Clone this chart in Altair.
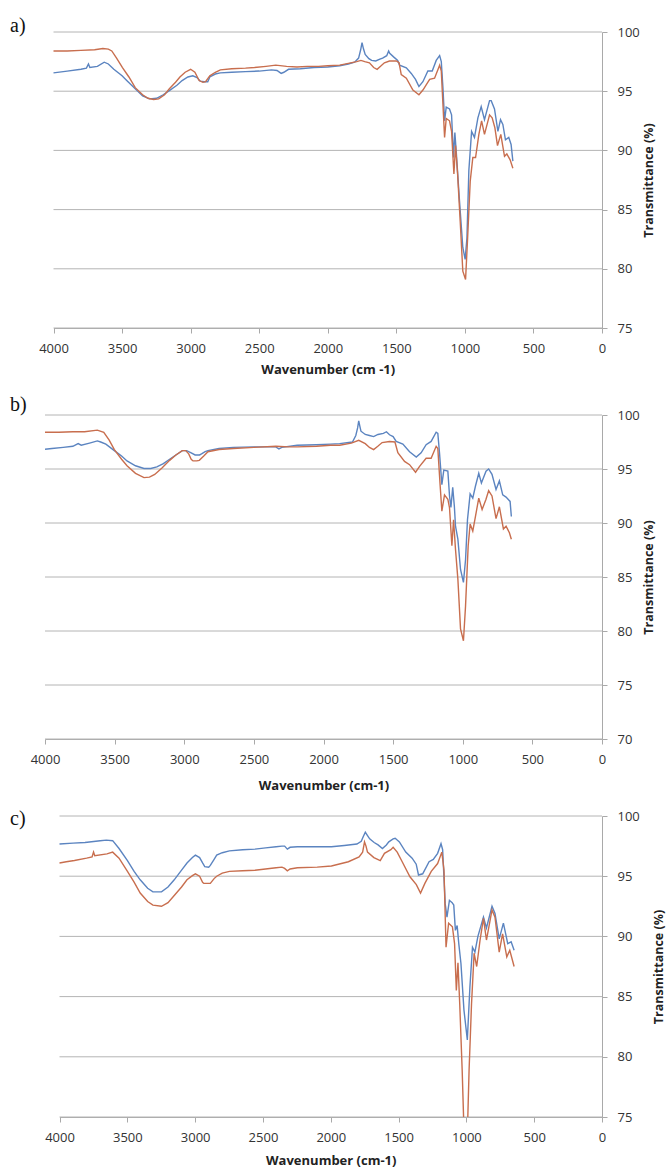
import altair as alt
import pandas as pd

# ---- FTIR spectra: wavenumber (cm-1) and transmittance (%) ----
SERIES = ["sample 1", "sample 2"]
BLUE = "#5B84C0"
ORANGE = "#C86E4E"
X_TICKS = [4000, 3500, 3000, 2500, 2000, 1500, 1000, 500, 0]

# panel a
A1_WN = [4000, 3900, 3800, 3760, 3745, 3735, 3680, 3630, 3600, 3560, 3500, 3466, 3404, 3350, 3300,
         3248, 3200, 3155, 3100, 3062, 3020, 2984, 2953, 2930, 2900, 2875, 2860, 2820, 2783, 2700,
         2600, 2500, 2410, 2370, 2340, 2320, 2286, 2200, 2100, 2000, 1913, 1850, 1804, 1775, 1760,
         1750, 1740, 1727, 1700, 1680, 1650, 1620, 1600, 1570, 1556, 1548, 1520, 1490, 1476, 1427,
         1391, 1360, 1335, 1306, 1270, 1238, 1209, 1184, 1172, 1160, 1148, 1136, 1112, 1097, 1083,
         1073, 1063, 1039, 1015, 998, 985, 971, 951, 930, 905, 881, 857, 820, 808, 784, 759, 740,
         723, 704, 680, 663, 650]
A1_T = [96.55, 96.7, 96.85, 96.95, 97.3, 97.0, 97.1, 97.45, 97.3, 96.85, 96.3, 95.9, 95.2, 94.6, 94.35,
        94.4, 94.7, 95.05, 95.5, 95.9, 96.2, 96.3, 96.15, 95.85, 95.8, 95.8, 96.2, 96.45, 96.55, 96.6,
        96.65, 96.7, 96.8, 96.75, 96.5, 96.6, 96.85, 96.9, 97.0, 97.05, 97.15, 97.3, 97.45, 97.8, 98.5,
        99.1, 98.6, 98.1, 97.75, 97.6, 97.55, 97.7, 97.8, 98.0, 98.4, 98.2, 97.9, 97.6, 97.2, 96.97,
        96.5, 96.0, 95.4, 95.8, 96.7, 96.7, 97.6, 98.0, 97.5, 95.3, 92.5, 93.65, 93.5, 93.0, 89.4,
        91.5, 89.9, 85.7, 81.8, 80.8, 82.6, 88.3, 91.6, 91.1, 92.75, 93.7, 92.6, 94.2, 94.2, 93.5, 91.6, 92.6,
        92.2, 90.9, 91.1, 90.5, 89.1]
A2_WN = [4000, 3900, 3800, 3700, 3640, 3600, 3575, 3540, 3497, 3450, 3404, 3350, 3311, 3270, 3233,
         3190, 3155, 3110, 3078, 3040, 3000, 2969, 2938, 2910, 2891, 2860, 2820, 2783, 2700, 2600,
         2534, 2450, 2379, 2300, 2224, 2150, 2068, 2000, 1913, 1850, 1789, 1758, 1730, 1696, 1665,
         1640, 1615, 1587, 1550, 1500, 1480, 1464, 1427, 1379, 1335, 1306, 1257, 1221, 1184, 1172,
         1160, 1148, 1136, 1112, 1097, 1080, 1068, 1053, 1034, 1015, 995, 980, 961, 942, 922, 898,
         878, 857, 820, 801, 781, 762, 738, 711, 694, 670, 650]
A2_T = [98.4, 98.4, 98.45, 98.5, 98.6, 98.55, 98.4, 97.8, 97.0, 96.2, 95.3, 94.7, 94.4, 94.3, 94.35,
        94.7, 95.2, 95.75, 96.2, 96.6, 96.85, 96.6, 95.9, 95.75, 95.8, 96.3, 96.6, 96.8, 96.9, 96.95,
        97.0, 97.1, 97.2, 97.1, 97.05, 97.1, 97.1, 97.15, 97.2, 97.35, 97.5, 97.6, 97.5, 97.4, 97.0,
        96.85, 97.1, 97.4, 97.55, 97.55, 97.4, 96.4, 96.1, 95.1, 94.7, 95.1, 96.0, 96.1, 97.2, 96.7,
        93.9, 91.1, 92.7, 92.5, 91.6, 88.0, 90.4, 88.0, 84.0, 79.8, 79.1, 82.6, 87.4, 89.4, 89.4, 91.35,
        92.5, 91.35, 93.0, 92.75, 91.9, 90.4, 91.35, 89.5, 89.7, 89.2, 88.5]

# panel b
B1_WN = [4000, 3950, 3869, 3800, 3762, 3740, 3680, 3624, 3600, 3563, 3502, 3450, 3411, 3350, 3289,
         3240, 3197, 3150, 3105, 3060, 3014, 2983, 2950, 2922, 2890, 2876, 2850, 2830, 2750, 2647,
         2500, 2400, 2342, 2320, 2300, 2189, 2050, 1950, 1884, 1792, 1768, 1755, 1747, 1738, 1731,
         1700, 1670, 1640, 1609, 1570, 1548, 1526, 1500, 1478, 1430, 1382, 1334, 1299, 1263, 1227,
         1191, 1179, 1167, 1150, 1136, 1107, 1095, 1085, 1072, 1060, 1052, 1035, 1016, 995, 980,
         966, 947, 928, 909, 885, 866, 833, 814, 790, 761, 737, 713, 689, 660, 651]
B1_T = [96.83, 96.9, 97.0, 97.1, 97.35, 97.2, 97.4, 97.6, 97.5, 97.3, 96.7, 96.2, 95.75, 95.3, 95.05,
        95.05, 95.2, 95.5, 95.9, 96.3, 96.7, 96.7, 96.5, 96.3, 96.3, 96.4, 96.6, 96.7, 96.9, 97.0,
        97.05, 97.05, 97.05, 96.85, 97.0, 97.2, 97.25, 97.3, 97.35, 97.5, 98.1, 98.8, 99.45, 98.9, 98.5,
        98.2, 98.1, 98.0, 98.2, 98.3, 98.45, 98.17, 98.0, 97.55, 97.3, 96.6, 96.1, 96.5, 97.25, 97.55,
        98.4, 98.3, 96.5, 93.55, 94.9, 94.8, 92.5, 91.45, 93.3, 91.5, 89.7, 88.5, 85.7, 84.5, 86.6,
        90.3, 92.7, 92.3, 93.4, 94.6, 93.7, 94.8, 95.0, 94.5, 93.1, 93.9, 92.6, 92.4, 92.0, 90.6]
B2_WN = [4000, 3900, 3800, 3716, 3624, 3578, 3540, 3502, 3450, 3411, 3350, 3289, 3250, 3212, 3160,
         3105, 3060, 3014, 2990, 2968, 2950, 2937, 2910, 2892, 2860, 2830, 2750, 2647, 2500, 2342,
         2250, 2189, 2050, 1950, 1884, 1800, 1747, 1700, 1670, 1640, 1610, 1579, 1526, 1487, 1466,
         1418, 1382, 1339, 1310, 1263, 1227, 1191, 1179, 1162, 1150, 1131, 1107, 1095, 1078, 1066,
         1052, 1035, 1016, 995, 980, 961, 947, 928, 909, 885, 861, 833, 814, 790, 761, 737, 708,
         689, 665, 651]
B2_T = [98.4, 98.4, 98.45, 98.45, 98.6, 98.4, 97.7, 96.8, 95.9, 95.3, 94.6, 94.2, 94.25, 94.5, 95.1,
        95.8, 96.3, 96.7, 96.7, 96.4, 95.9, 95.75, 95.75, 95.8, 96.2, 96.6, 96.8, 96.9, 97.0, 97.1,
        97.05, 97.05, 97.1, 97.2, 97.2, 97.4, 97.65, 97.35, 97.0, 96.8, 97.1, 97.45, 97.55, 97.5, 96.5,
        95.7, 95.4, 94.7, 95.25, 96.0, 96.0, 97.1, 96.9, 93.4, 91.1, 92.6, 92.2, 91.4, 87.9, 90.3,
        87.55, 84.8, 80.2, 79.1, 82.3, 87.9, 89.9, 89.25, 90.6, 92.3, 91.25, 92.2, 93.0, 92.5, 90.4, 91.5, 89.45,
        89.7, 89.1, 88.5]

# panel c
C1_WN = [4000, 3900, 3812, 3700, 3655, 3608, 3561, 3499, 3450, 3405, 3350, 3311, 3248, 3200, 3154,
         3100, 3060, 3020, 2998, 2967, 2945, 2929, 2900, 2888, 2860, 2841, 2800, 2747, 2650, 2559,
         2480, 2403, 2360, 2340, 2320, 2300, 2246, 2100, 1995, 1900, 1807, 1775, 1760, 1745, 1730,
         1713, 1680, 1651, 1619, 1590, 1572, 1540, 1525, 1510, 1494, 1447, 1400, 1370, 1353, 1322,
         1275, 1244, 1212, 1187, 1175, 1156, 1143, 1125, 1105, 1093, 1081, 1068, 1056, 1040, 1018,
         993, 974, 955, 937, 915, 874, 852, 811, 789, 758, 727, 695, 670, 648]
C1_T = [97.67, 97.75, 97.8, 97.95, 98.0, 97.95, 97.3, 96.3, 95.4, 94.7, 94.0, 93.7, 93.7, 94.1, 94.7,
        95.5, 96.1, 96.55, 96.75, 96.55, 96.1, 95.8, 95.75, 95.9, 96.4, 96.75, 96.95, 97.1, 97.2, 97.25,
        97.35, 97.45, 97.5, 97.5, 97.25, 97.4, 97.45, 97.45, 97.45, 97.55, 97.67, 97.9, 98.3, 98.65, 98.4,
        98.1, 97.8, 97.6, 97.3, 97.6, 97.85, 98.1, 98.15, 98.0, 97.85, 97.0, 96.5, 96.0, 95.1, 95.2,
        96.2, 96.4, 96.9, 97.7, 97.2, 92.7, 91.6, 93.0, 92.8, 92.6, 90.5, 90.9, 89.4, 87.75, 83.9,
        81.4, 85.8, 89.1, 88.7, 90.0, 91.6, 90.7, 92.5, 91.9, 89.8, 91.1, 89.4, 89.55, 88.85]
C2_WN = [4000, 3950, 3890, 3800, 3760, 3749, 3740, 3650, 3608, 3561, 3499, 3450, 3405, 3350, 3311,
         3248, 3200, 3154, 3100, 3060, 3020, 2998, 2967, 2945, 2936, 2888, 2860, 2841, 2800, 2747,
         2650, 2559, 2403, 2360, 2340, 2320, 2300, 2246, 2100, 1995, 1870, 1791, 1765, 1751, 1740,
         1729, 1682, 1635, 1604, 1557, 1540, 1510, 1478, 1416, 1369, 1338, 1306, 1259, 1212, 1181,
         1165, 1150, 1131, 1103, 1087, 1074, 1062, 1049, 1031, 1018, 1005, 993, 980, 962, 943, 924,
         899, 874, 852, 811, 789, 758, 733, 702, 680, 648]
C2_T = [96.1, 96.2, 96.3, 96.5, 96.6, 97.0, 96.7, 96.85, 97.0, 96.5, 95.4, 94.5, 93.6, 92.9, 92.6,
        92.5, 92.8, 93.4, 94.1, 94.7, 95.05, 95.2, 95.0, 94.5, 94.4, 94.4, 94.8, 95.0, 95.25, 95.4,
        95.45, 95.5, 95.7, 95.75, 95.65, 95.45, 95.6, 95.7, 95.75, 95.85, 96.2, 96.6, 97.0, 97.85, 97.5,
        97.0, 96.55, 96.3, 96.9, 97.2, 97.4, 97.0, 96.3, 94.95, 94.3, 93.6, 94.4, 95.4, 96.05, 97.0,
        95.5, 89.1, 91.1, 90.8, 89.4, 85.5, 87.8, 84.4, 78.9, 74.0, 72.5, 73.5, 78.9, 84.4, 88.6, 87.5,
        89.7, 91.5, 89.7, 92.2, 91.6, 88.7, 90.2, 88.3, 88.85, 87.5]

AXIS_GRAY = "#A9A9A9"
GRID_GRAY = "#B4B4B4"
FONT = "Open Sans"
ONE_ROW = pd.DataFrame({"k": [0]})
PANEL_W = 557


def spectra(wn1, t1, wn2, t2):
    return pd.concat([
        pd.DataFrame({"wn": wn1, "t": t1, "series": SERIES[0]}),
        pd.DataFrame({"wn": wn2, "t": t2, "series": SERIES[1]}),
    ], ignore_index=True)


def panel(df, ymin, tag, xtitle, ytitle, x_start, h, tag_y,
          top_gap, bottom_gap, xtitle_pad, ytitle_pad):
    y_ticks = list(range(ymin, 101, 5))
    x_enc = alt.X("wn:Q",
                  scale=alt.Scale(domain=[4000, 0], range=[x_start, PANEL_W], nice=False),
                  axis=alt.Axis(values=X_TICKS, format="d", title=xtitle, grid=False,
                                domainColor=AXIS_GRAY, tickColor=AXIS_GRAY, tickSize=5,
                                labelFont=FONT, labelFontSize=13, labelColor="#333333",
                                labelPadding=9, labelFlush=False,
                                titleFont=FONT, titleFontSize=13, titleFontWeight="bold",
                                titleColor="#222222", titlePadding=xtitle_pad))
    y_enc = alt.Y("t:Q",
                  scale=alt.Scale(domain=[ymin, 100], nice=False, zero=False),
                  axis=alt.Axis(orient="right", values=y_ticks, title=ytitle, grid=False,
                                domainColor=AXIS_GRAY, tickColor=AXIS_GRAY, tickSize=5,
                                labelFont=FONT, labelFontSize=13, labelColor="#333333",
                                labelPadding=10, labelFlush=False,
                                titleFont=FONT, titleFontSize=12.5, titleFontWeight="bold",
                                titleColor="#222222", titleAngle=270, titleBaseline="top",
                                titlePadding=ytitle_pad))
    # horizontal gridlines spanning the wavenumber range 4000 -> 0
    grid_df = pd.DataFrame({"t": y_ticks, "wn": X_TICKS[0], "wn_end": X_TICKS[-1]})
    grid = alt.Chart(grid_df).mark_rule(color=GRID_GRAY, strokeWidth=1).encode(
        x=x_enc, x2="wn_end:Q", y=y_enc)
    lines = alt.Chart(df).mark_line(strokeWidth=1.4, clip=True).encode(
        x=x_enc,
        y=y_enc,
        color=alt.Color("series:N", scale=alt.Scale(domain=SERIES, range=[BLUE, ORANGE]),
                        legend=None),
    )
    label = alt.Chart(ONE_ROW).mark_text(
        align="left", baseline="middle", font="Liberation Serif", fontSize=20, color="#111111"
    ).encode(x=alt.value(-35), y=alt.value(tag_y), text=alt.value(tag))
    # thin white rules that fix the vertical extent of each panel
    top_edge = alt.Chart(ONE_ROW).mark_rule(color="white").encode(
        x=alt.value(0), x2=alt.value(1), y=alt.value(-top_gap))
    bottom_edge = alt.Chart(ONE_ROW).mark_rule(color="white").encode(
        x=alt.value(0), x2=alt.value(1), y=alt.value(h + bottom_gap))
    return alt.layer(grid, lines, label, top_edge, bottom_edge).properties(
        width=PANEL_W, height=h)


pa = panel(spectra(A1_WN, A1_T, A2_WN, A2_T), 75, "a)", "Wavenumber (cm -1)",
           "Transmittance (%)", 8.5, 296, -6, 20, 64, 8, 3)
pb = panel(spectra(B1_WN, B1_T, B2_WN, B2_T), 70, "b)", "Wavenumber (cm-1)",
           "Transmittance  (%)", 0, 324, -10, 21, 63, 13, 3)
pc = panel(spectra(C1_WN, C1_T, C2_WN, C2_T), 75, "c)", "Wavenumber (cm-1)",
           "Transmittance (%)", 14.5, 301, 3, 12, 50, 10, 13)

chart = alt.vconcat(pa, pb, pc, spacing=0).properties(
    padding={"left": 10, "top": 11, "right": 1, "bottom": 0},
    background="white",
).configure_view(stroke=None)

chart.save("out.html", embed_options={"renderer": "svg", "actions": False})
